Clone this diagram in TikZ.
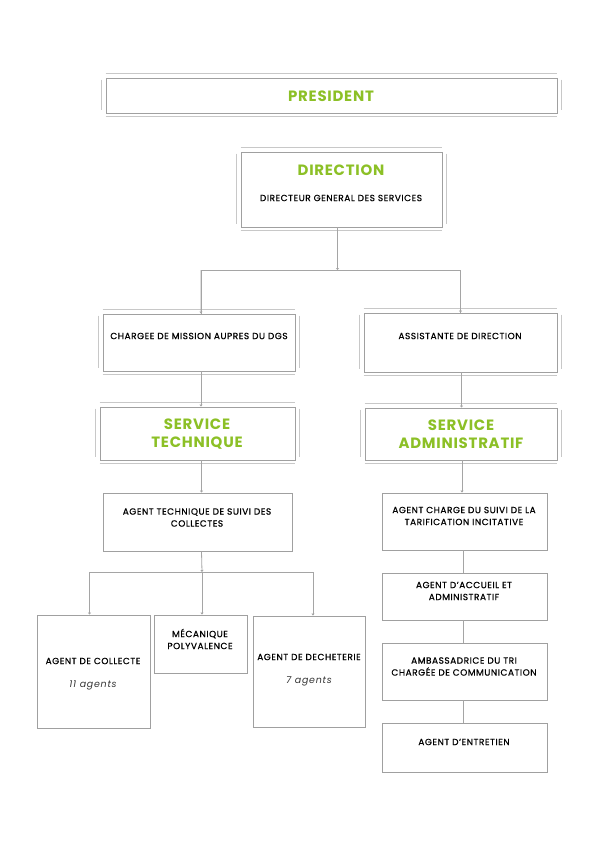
\documentclass[tikz,border=0pt]{standalone}
\usepackage{fontspec}
\setmainfont{Poppins}
\usetikzlibrary{fit,arrows.meta}
\definecolor{lime}{RGB}{140,192,38}
\definecolor{frame}{RGB}{160,160,160}
\definecolor{frameL}{RGB}{200,200,200}
\definecolor{wire}{RGB}{165,165,165}
\tikzset{
  boxst/.style={draw=frame, line width=0.9bp, inner sep=0pt, fill=white},
  outerln/.style={draw=frameL, line width=1.1bp},
  txt/.style={font=\fontsize{9}{12}\selectfont\addfontfeatures{FakeBold=0.7,LetterSpace=6}, align=center, text=black, inner sep=0pt},
  ttl/.style={font=\fontsize{15}{18}\selectfont\bfseries\addfontfeatures{LetterSpace=5}, align=center, text=lime, inner sep=0pt},
  agn/.style={font=\fontsize{9.5}{11}\selectfont\itshape\addfontfeatures{LetterSpace=8}, text=black!80, inner sep=0pt},
  conn/.style={draw=wire, line width=0.8bp},
  tipd/.style={conn, -{Triangle[width=3bp,length=2bp]}}
}
\newcommand\orgbox[5]{\node[boxst, fit={(#2,#3)(#4,#5)}] (#1) {};}
\newcommand\dblframe[1]{%
  \draw[outerln] ([xshift=0bp,yshift=4bp]#1.north west) -- ([yshift=4bp]#1.north east);
  \draw[outerln] ([xshift=0bp,yshift=-3bp]#1.south west) -- ([yshift=-3bp]#1.south east);
  \draw[outerln] ([xshift=-4bp,yshift=-2bp]#1.north west) -- ([xshift=-4bp,yshift=3bp]#1.south west);
  \draw[outerln] ([xshift=4bp,yshift=-2bp]#1.north east) -- ([xshift=4bp,yshift=3bp]#1.south east);}
\begin{document}
\begin{tikzpicture}[x=1bp,y=-1bp]
\useasboundingbox (0,0) rectangle (595,842);
\fill[white] (0,0) rectangle (595,842);
\coordinate (j1) at (337,270);
\coordinate (j2) at (202,572);
% boxes
\orgbox{pres}{106}{78}{557}{113}
\orgbox{dir}{241}{152}{442}{227}
\orgbox{chg}{103}{314}{295}{371}
\orgbox{asst}{364}{313}{557}{372}
\orgbox{st}{100}{407}{295}{460}
\orgbox{sa}{365}{408}{557}{460}
\orgbox{atech}{103}{493}{292}{551}
\orgbox{coll}{37}{615}{150}{728}
\orgbox{meca}{154}{615}{247}{673}
\orgbox{dech}{253}{616}{365}{727}
\orgbox{ach}{382}{493}{547}{550}
\orgbox{acc}{382}{573}{547}{620}
\orgbox{amb}{382}{643}{547}{700}
\orgbox{ent}{382}{723}{547}{772}
\dblframe{pres}
\dblframe{dir}
\dblframe{chg}
\dblframe{asst}
\dblframe{st}
\dblframe{sa}
% connectors
\draw[tipd] ([xshift=-4bp]dir.south) -- ([xshift=-4bp]dir.south |- j1);
\draw[conn] ([xshift=-4bp]dir.south |- j1) -| ([xshift=2bp]chg.north);
\draw[tipd] (201,270) -- ([xshift=2bp]chg.north);
\draw[conn] ([xshift=-4bp]dir.south |- j1) -| (asst.north);
\draw[tipd] (asst.north |- j1) -- (asst.north);
\draw[tipd] ([xshift=2bp]chg.south) -- ([xshift=2bp]chg.south |- st.north);
\draw[tipd] ([xshift=1bp]asst.south) -- ([xshift=1bp]asst.south |- sa.north);
\draw[tipd] ([xshift=4bp]st.south) -- ([xshift=4bp]st.south |- atech.north);
\draw[tipd] ([xshift=1bp]sa.south) -- ([xshift=1bp]sa.south |- ach.north);
\draw[tipd] ([xshift=4bp]atech.south) -- (j2);
\draw[conn] ([xshift=-4bp]coll.north |- j2) -- ([xshift=4bp]dech.north |- j2);
\draw[tipd] ([xshift=-4bp]coll.north |- j2) -- ([xshift=-4bp]coll.north);
\draw[tipd] ([xshift=1.5bp]meca.north |- j2) -- ([xshift=1.5bp]meca.north);
\draw[tipd] ([xshift=4bp]dech.north |- j2) -- ([xshift=4bp]dech.north);
\draw[conn] ([xshift=-1bp]ach.south) -- ([xshift=-1bp]acc.north);
\draw[conn] ([xshift=-1bp]acc.south) -- ([xshift=-1bp]amb.north);
\draw[conn] ([xshift=-1bp]amb.south) -- ([xshift=-1bp]ent.north);
% texts
\node[ttl] (tpres) at (331,96) {PRESIDENT};
\node[ttl] (tdir) at (341,170) {DIRECTION};
\node[txt] (tdgs) at (341,198) {DIRECTEUR GENERAL DES SERVICES};
\node[txt] (tchg) at (199,336) {CHARGEE DE MISSION AUPRES DU DGS};
\node[txt] (tasst) at (460,336) {ASSISTANTE DE DIRECTION};
\node[ttl] (tst) at (197,434) {SERVICE\\TECHNIQUE};
\node[ttl] (tsa) at (461,434) {SERVICE\\ADMINISTRATIF};
\node[txt] (tatech) at (197,517.5) {AGENT TECHNIQUE DE SUIVI DES\\COLLECTES};
\node[txt] (tcoll) at (93,661) {AGENT DE COLLECTE};
\node[agn] (ncoll) at (93,685) {11 agents};
\node[txt] (tmeca) at (200,639) {MÉCANIQUE\\POLYVALENCE};
\node[txt] (tdech) at (309,657) {AGENT DE DECHETERIE};
\node[agn] (ndech) at (309,681) {7 agents};
\node[txt] (tach) at (464,516) {AGENT CHARGE DU SUIVI DE LA\\TARIFICATION INCITATIVE};
\node[txt] (tacc) at (464,591) {AGENT D'ACCUEIL ET\\ADMINISTRATIF};
\node[txt] (tamb) at (464,666.5) {AMBASSADRICE DU TRI\\CHARGÉE DE COMMUNICATION};
\node[txt] (tent) at (464,742) {AGENT D'ENTRETIEN};
\end{tikzpicture}
\end{document}
